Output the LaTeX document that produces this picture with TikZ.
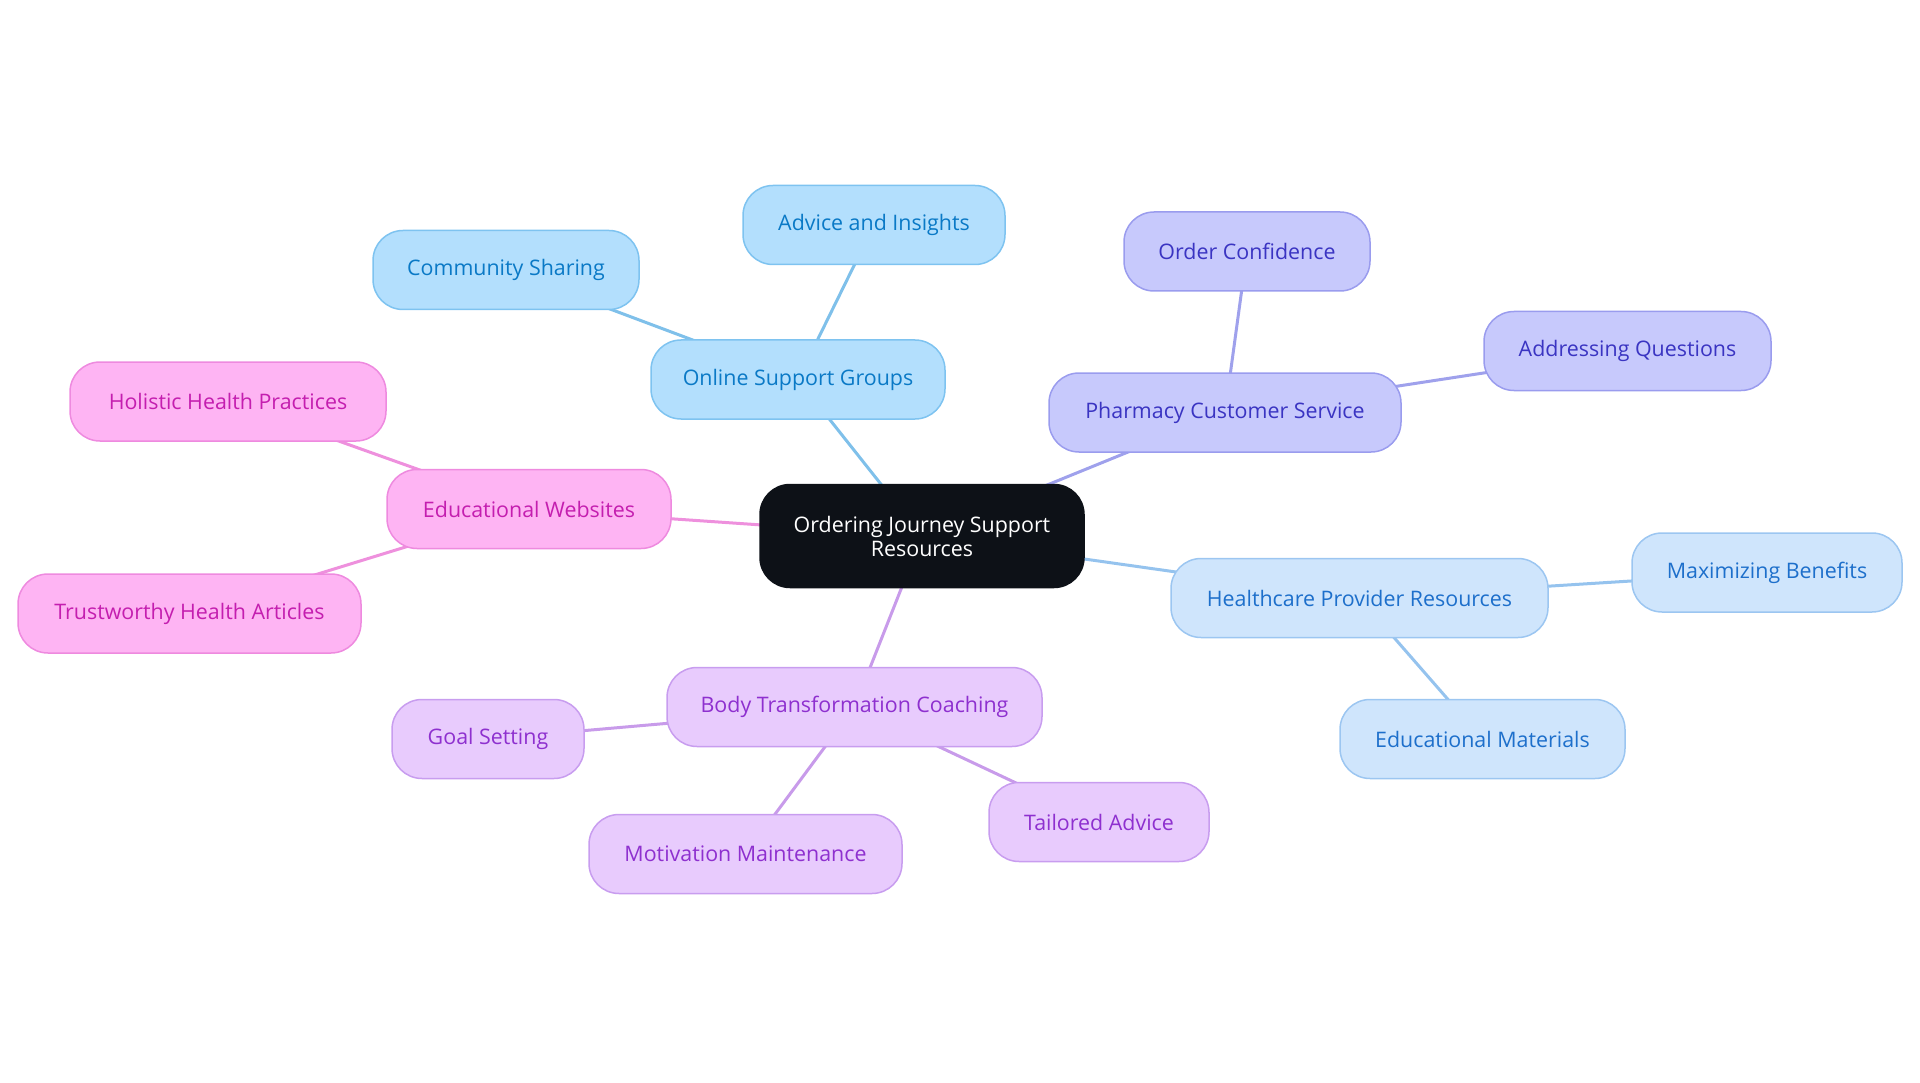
\documentclass[tikz,border=0pt]{standalone}
\usepackage{fontspec}
\setmainfont{Open Sans}
\usetikzlibrary{backgrounds}
\definecolor{cfill}{HTML}{0D1117}
\definecolor{bfill}{HTML}{B3DFFD}\definecolor{bdraw}{HTML}{7EC3F0}\definecolor{btext}{HTML}{0A79C6}\definecolor{bedge}{HTML}{7FC0EA}
\definecolor{pfill}{HTML}{C7C9FC}\definecolor{pdraw}{HTML}{9A9CEE}\definecolor{ptext}{HTML}{3A34C2}\definecolor{pedge}{HTML}{9FA1EC}
\definecolor{hfill}{HTML}{CFE5FC}\definecolor{hdraw}{HTML}{9CC6F1}\definecolor{htext}{HTML}{1D6FCB}\definecolor{hedge}{HTML}{95C3EE}
\definecolor{vfill}{HTML}{E8CBFD}\definecolor{vdraw}{HTML}{C89DEF}\definecolor{vtext}{HTML}{8E30CF}\definecolor{vedge}{HTML}{C89BEA}
\definecolor{efill}{HTML}{FEB4F3}\definecolor{edraw}{HTML}{EE8ADF}\definecolor{etext}{HTML}{C41EAF}\definecolor{eedge}{HTML}{EE90DD}
\tikzset{
  x=1pt,y=-1pt,
  box/.style={rounded corners=30pt,minimum height=79pt,line width=1.5pt,inner sep=0pt,
    font=\fontsize{21.4}{24}\selectfont},
  cbox/.style={box,fill=cfill,draw=cfill,text=white,minimum width=324pt,minimum height=103pt,align=center},
  bbox/.style={box,fill=bfill,draw=bdraw,text=btext},
  pbox/.style={box,fill=pfill,draw=pdraw,text=ptext},
  hbox/.style={box,fill=hfill,draw=hdraw,text=htext},
  vbox/.style={box,fill=vfill,draw=vdraw,text=vtext},
  ebox/.style={box,fill=efill,draw=edraw,text=etext},
  link/.style={line width=3pt},
}
\begin{document}
\begin{tikzpicture}
\useasboundingbox (0,0) rectangle (1920,1083);
\node[cbox] (c) at (922,536) {Ordering Journey Support\\Resources};
\node[bbox,minimum width=294pt] (osg) at (798,379.5) {Online Support Groups};
\node[bbox,minimum width=262pt] (adv) at (874,225) {Advice and Insights};
\node[bbox,minimum width=266pt] (com) at (506,270) {Community Sharing};
\node[pbox,minimum width=352pt] (pcs) at (1225,412.5) {Pharmacy Customer Service};
\node[pbox,minimum width=246pt] (oc) at (1247,251.5) {Order Confidence};
\node[pbox,minimum width=287pt] (aq) at (1627.5,351) {Addressing Questions};
\node[hbox,minimum width=377pt] (hpr) at (1359.5,598) {Healthcare Provider Resources};
\node[hbox,minimum width=270pt] (mb) at (1767,572.5) {Maximizing Benefits};
\node[hbox,minimum width=285pt] (em) at (1482.5,739) {Educational Materials};
\node[vbox,minimum width=375pt] (btc) at (854.5,707) {Body Transformation Coaching};
\node[vbox,minimum width=192pt] (gs) at (488,739) {Goal Setting};
\node[vbox,minimum width=313pt] (mm) at (745.5,854) {Motivation Maintenance};
\node[vbox,minimum width=220pt] (ta) at (1099,822) {Tailored Advice};
\node[ebox,minimum width=284pt] (ew) at (529,509) {Educational Websites};
\node[ebox,minimum width=316pt] (hhp) at (228,401.5) {Holistic Health Practices};
\node[ebox,minimum width=343pt] (tha) at (189.5,613.5) {Trustworthy Health Articles};
\begin{scope}[on background layer]
\draw[link,bedge] (c.center) -- (osg.center);
\draw[link,bedge] (osg.center) -- (adv.center);
\draw[link,bedge] (osg.center) -- (com.center);
\draw[link,pedge] (c.center) -- (pcs.center);
\draw[link,pedge] (pcs.center) -- (oc.center);
\draw[link,pedge] (pcs.center) -- (aq.center);
\draw[link,hedge] (c.center) -- (hpr.center);
\draw[link,hedge] (hpr.center) -- (mb.center);
\draw[link,hedge] (hpr.center) -- (em.center);
\draw[link,vedge] (c.center) -- (btc.center);
\draw[link,vedge] (btc.center) -- (gs.center);
\draw[link,vedge] (btc.center) -- (mm.center);
\draw[link,vedge] (btc.center) -- (ta.center);
\draw[link,eedge] (c.center) -- (ew.center);
\draw[link,eedge] (ew.center) -- (hhp.center);
\draw[link,eedge] (ew.center) -- (tha.center);
\end{scope}
\end{tikzpicture}
\end{document}
